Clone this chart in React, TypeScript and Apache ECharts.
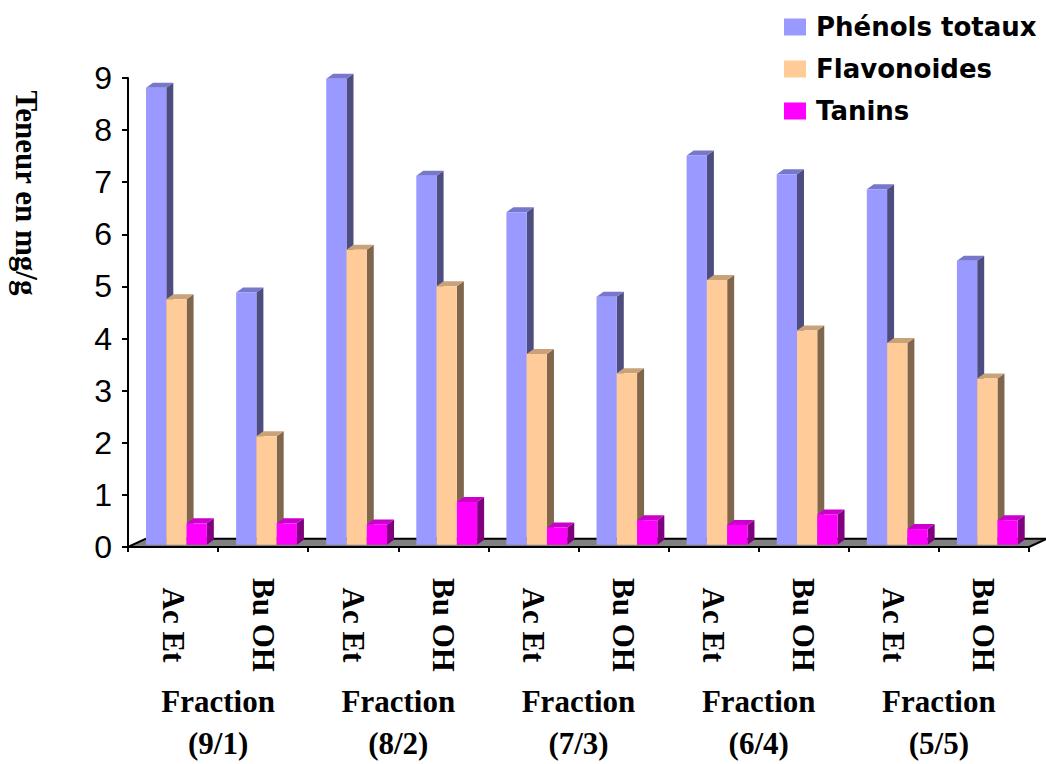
import React, { useEffect, useRef } from "react";
import * as echarts from "echarts";

// Extraction solvents, one bar group per fraction / solvent
const categories = ["Ac Et", "Bu OH", "Ac Et", "Bu OH", "Ac Et", "Bu OH", "Ac Et", "Bu OH", "Ac Et", "Bu OH"];
const fractions = ["Fraction\n(9/1)", "Fraction\n(8/2)", "Fraction\n(7/3)", "Fraction\n(6/4)", "Fraction\n(5/5)"];
const yTicks = [0, 9, 1]; // min, max, interval

// Contents in mg/g
const phenols = [8.77, 4.84, 8.94, 7.08, 6.38, 4.76, 7.47, 7.11, 6.82, 5.45];
const flavonoides = [4.71, 2.08, 5.66, 4.96, 3.66, 3.29, 5.08, 4.11, 3.87, 3.19];
const tanins = [0.41, 0.41, 0.39, 0.82, 0.33, 0.47, 0.38, 0.58, 0.30, 0.47];

const seriesNames = ["Phénols totaux", "Flavonoides", "Tanins"];

// front / side / top shades of each pseudo-3D column
const palette = [
  { front: "#9999FF", side: "#4D4D80", top: "#7777CC" },
  { front: "#FFCC99", side: "#80664D", top: "#C9A27A" },
  { front: "#FF00FF", side: "#800080", top: "#CC00CC" },
];

const DEPTH_X = 7;
const DEPTH_Y = 5;
const LIFT = 2.3;
const FLOOR_X = 18;
const FLOOR_Y = 8.3;

function columnRenderer(slot: number) {
  const c = palette[slot];
  return (_params: any, api: any) => {
    const idx = api.value(0);
    const val = api.value(1);
    const [cx, yTop] = api.coord([idx, val]);
    const yBase = api.coord([idx, 0])[1];
    const w = api.size([1, 0])[0];
    const bw = w * 0.225;
    const x0 = cx - w / 2 + w * 0.2 + slot * bw;
    const x1 = x0 + bw;
    const top = yTop - LIFT;
    const base = yBase - LIFT;
    return {
      type: "group",
      children: [
        {
          type: "polygon",
          shape: {
            points: [
              [x1, base],
              [x1, top],
              [x1 + DEPTH_X, top - DEPTH_Y],
              [x1 + DEPTH_X, base - DEPTH_Y],
            ],
          },
          style: { fill: c.side },
        },
        {
          type: "polygon",
          shape: {
            points: [
              [x0, top],
              [x1, top],
              [x1 + DEPTH_X, top - DEPTH_Y],
              [x0 + DEPTH_X, top - DEPTH_Y],
            ],
          },
          style: { fill: c.top },
        },
        {
          type: "rect",
          shape: { x: x0, y: top, width: bw, height: base - top },
          style: { fill: c.front },
        },
      ],
    };
  };
}

function floorRenderer(_params: any, api: any) {
  const w = api.size([1, 0])[0];
  const [cFirst, y0] = api.coord([0, 0]);
  const cLast = api.coord([categories.length - 1, 0])[0];
  const L = cFirst - w / 2;
  const R = cLast + w / 2;
  const yb = y0 - FLOOR_Y;
  const edge = { stroke: "#000", lineWidth: 2, fill: null };
  return {
    type: "group",
    children: [
      {
        type: "polygon",
        shape: { points: [[L, y0], [R, y0], [R + FLOOR_X, yb], [L + FLOOR_X, yb]] },
        style: { fill: "#808080" },
      },
      { type: "line", shape: { x1: L + FLOOR_X, y1: yb, x2: R + FLOOR_X, y2: yb }, style: edge },
      { type: "line", shape: { x1: L, y1: y0, x2: L + FLOOR_X, y2: yb }, style: edge },
      { type: "line", shape: { x1: R, y1: y0, x2: R + FLOOR_X, y2: yb }, style: edge },
    ],
  };
}

export default function App() {
  const ref = useRef<HTMLDivElement>(null);

  useEffect(() => {
    if (!ref.current) return;
    const chart = echarts.init(ref.current, undefined, { renderer: "svg" });
    const values = [phenols, flavonoides, tanins];

    const barSeries = values.map((arr, s) => ({
      type: "custom",
      name: seriesNames[s],
      xAxisIndex: 0,
      yAxisIndex: 0,
      color: palette[s].front,
      itemStyle: { color: palette[s].front },
      renderItem: columnRenderer(s),
      data: arr.map((v, i) => [i, v]),
      z: 3 + s,
      clip: false,
    }));

    chart.setOption({
      animation: false,
      backgroundColor: "#ffffff",
      grid: { left: 128, right: 17, top: 78, bottom: 210, containLabel: false },
      legend: {
        orient: "vertical",
        left: 784,
        top: 14,
        padding: 0,
        itemWidth: 22,
        itemHeight: 17,
        itemGap: 16,
        selectedMode: false,
        data: seriesNames.map((n) => ({ name: n, icon: "rect" })),
        textStyle: {
          fontFamily: "DejaVu Sans",
          fontWeight: "bold",
          fontSize: 26,
          lineHeight: 22,
          color: "#000",
          padding: [0, 0, 0, 5],
        },
      },
      xAxis: [
        {
          type: "category",
          data: categories,
          position: "bottom",
          boundaryGap: true,
          axisLine: { show: true, lineStyle: { color: "#000", width: 2 } },
          axisTick: { show: true, length: 5, alignWithLabel: false, lineStyle: { color: "#000", width: 2 } },
          axisLabel: {
            interval: 0,
            rotate: -90,
            align: "center",
            verticalAlign: "middle",
            margin: 78,
            fontFamily: "Liberation Serif",
            fontWeight: "bold",
            fontSize: 31,
            color: "#000",
          },
          splitLine: { show: false },
          z: 10,
        },
        {
          type: "category",
          data: fractions,
          position: "bottom",
          offset: 0,
          boundaryGap: true,
          axisLine: { show: false },
          axisTick: { show: false },
          axisLabel: {
            interval: 0,
            margin: 133,
            fontFamily: "Liberation Serif",
            fontWeight: "bold",
            fontSize: 31,
            lineHeight: 42,
            color: "#000",
          },
          splitLine: { show: false },
        },
      ],
      yAxis: {
        type: "value",
        min: yTicks[0],
        max: yTicks[1],
        interval: yTicks[2],
        axisLine: { show: true, lineStyle: { color: "#000", width: 2 } },
        axisTick: { show: true, length: 6, lineStyle: { color: "#000", width: 2 } },
        axisLabel: {
          margin: 16,
          fontFamily: "Liberation Sans",
          fontSize: 32,
          color: "#000",
        },
        splitLine: { show: false },
        z: 10,
      },
      graphic: [
        {
          type: "text",
          x: 26,
          y: 193,
          rotation: -Math.PI / 2,
          style: {
            text: "Teneur en mg/g",
            fontFamily: "Liberation Serif",
            fontWeight: "bold",
            fontSize: 31,
            fill: "#000",
            textAlign: "center",
            textVerticalAlign: "middle",
          },
        },
      ],
      series: [
        {
          type: "custom",
          name: "floor",
          xAxisIndex: 0,
          yAxisIndex: 0,
          renderItem: floorRenderer,
          data: [[0, 0]],
          z: 1,
          clip: false,
          silent: true,
        },
        ...barSeries,
      ],
    });

    return () => chart.dispose();
  }, []);

  return (
    <div
      ref={ref}
      style={{ position: "absolute", left: 0, top: 0, width: 1046, height: 764, background: "#fff" }}
    />
  );
}
